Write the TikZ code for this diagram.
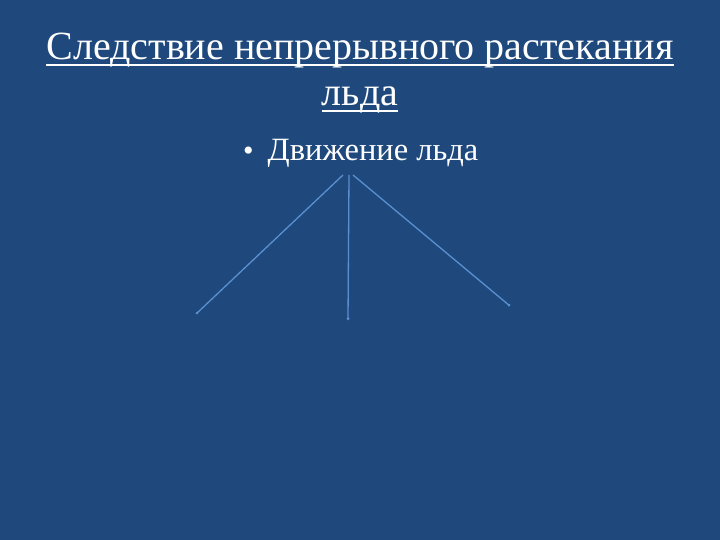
\documentclass[tikz,border=0pt]{standalone}
\usepackage{fontspec}
\setmainfont{Liberation Serif}
\usetikzlibrary{arrows.meta}
\definecolor{slideblue}{HTML}{1F497D}
\definecolor{linkblue}{HTML}{5A8FD0}
\tikzset{
  titletext/.style={anchor=base, inner sep=0pt, text=white, font=\fontsize{40}{44}\selectfont},
  branch/.style={linkblue, line width=1.3pt, -{Circle[length=2.5pt]}}
}

\begin{document}
\begin{tikzpicture}[x=1pt,y=-1pt]
% Background of the slide
  \fill[slideblue] (0,0) rectangle (720,540);

  % Title, two lines, underlined
  \node[titletext] (title1) at (360,60) {Следствие непрерывного растекания};
  \node[titletext] (title2) at (360,106) {льда};
  \draw[white, line width=1.6pt] ([yshift=-5pt]title1.base west) -- ([yshift=-5pt]title1.base east);
  \draw[white, line width=1.6pt] ([yshift=-5pt]title2.base west) -- ([yshift=-5pt]title2.base east);

  % The bullet
  \node[anchor=base west, inner sep=0pt, text=white, font=\fontsize{32.5}{36}\selectfont] (motion) at (243,161)
    {{\fontsize{30}{32}\selectfont\textbullet}\hspace{14pt}Движение льда};

  % Three branches
  \coordinate (left) at (196,314);
  \coordinate (mid) at (348,320);
  \coordinate (right) at (510,306);

  \draw[branch] ([xshift=100pt,yshift=-14pt]motion.base west) -- (left);
  \draw[branch] ([xshift=106pt,yshift=-14pt]motion.base west) -- (mid);
  \draw[branch] ([xshift=110pt,yshift=-14pt]motion.base west) -- (right);

\end{tikzpicture}
\end{document}
